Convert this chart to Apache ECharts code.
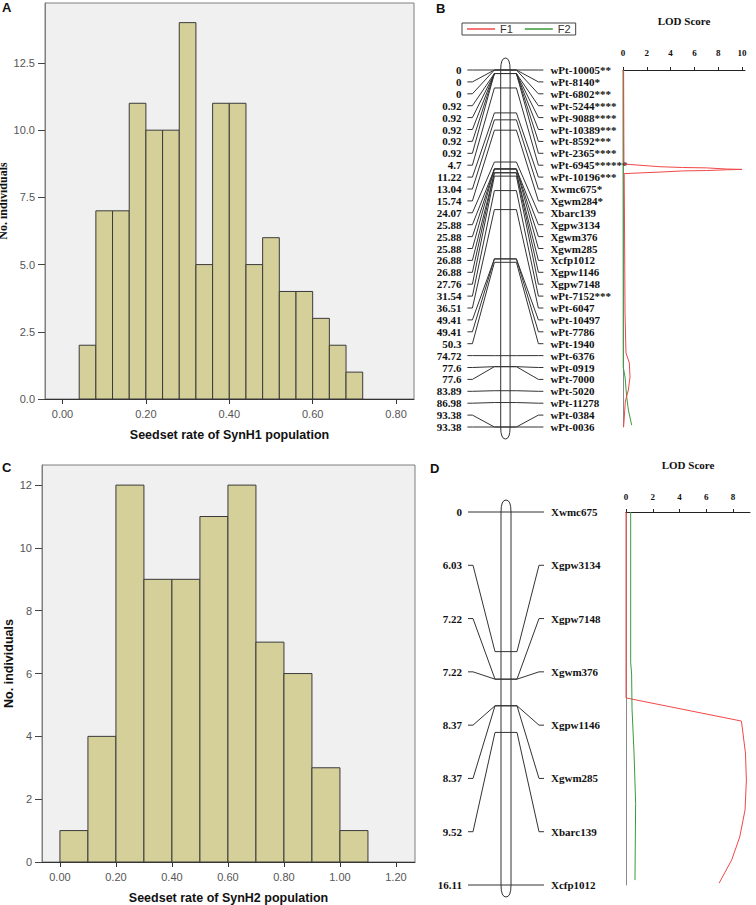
<!DOCTYPE html>
<html>
<head>
<meta charset="utf-8">
<script src="https://cdn.jsdelivr.net/npm/echarts@6.0.0/dist/echarts.min.js"></script>
<style>
  html, body { margin: 0; padding: 0; background: #fff; }
  #main { width: 756px; height: 905px; }
</style>
</head>
<body>
<div id="main"></div>
<script>
// A: seedset histogram SynH1 (bin starts, bin width, counts)
var histAStart = [0.04, 0.08, 0.12, 0.16, 0.20, 0.24, 0.28, 0.32, 0.36, 0.40, 0.44, 0.48, 0.52, 0.56, 0.60, 0.64, 0.68];
var histAWidth = 0.04;
var histACounts = [2, 7, 7, 11, 10, 10, 14, 5, 11, 11, 5, 6, 4, 4, 3, 2, 1];
var histATicks = [0, 0.2, 0.4, 0.6, 0.8];
var histAYTicks = [0, 2.5, 5, 7.5, 10, 12.5];

// C: seedset histogram SynH2
var histCStart = [0.0, 0.1, 0.2, 0.3, 0.4, 0.5, 0.6, 0.7, 0.8, 0.9, 1.0];
var histCWidth = 0.1;
var histCCounts = [1, 4, 12, 9, 9, 11, 12, 7, 6, 3, 1];
var histCTicks = [0, 0.2, 0.4, 0.6, 0.8, 1.0, 1.2];
var histCYTicks = [0, 2, 4, 6, 8, 10, 12];

// B: linkage map (cM) and markers
var posB = [0, 0, 0, 0.92, 0.92, 0.92, 0.92, 0.92, 4.7, 11.22, 13.04, 15.74, 24.07, 25.88, 25.88, 25.88,
  26.88, 26.88, 27.76, 31.54, 36.51, 49.41, 49.41, 50.3, 74.72, 77.6, 77.6, 83.89, 86.98, 93.38, 93.38];
var namesB = ['wPt-10005**', 'wPt-8140*', 'wPt-6802***', 'wPt-5244****', 'wPt-9088****', 'wPt-10389***',
  'wPt-8592***', 'wPt-2365****', 'wPt-6945******', 'wPt-10196***', 'Xwmc675*', 'Xgwm284*', 'Xbarc139',
  'Xgpw3134', 'Xgwm376', 'Xgwm285', 'Xcfp1012', 'Xgpw1146', 'Xgpw7148', 'wPt-7152***', 'wPt-6047',
  'wPt-10497', 'wPt-7786', 'wPt-1940', 'wPt-6376', 'wPt-0919', 'wPt-7000', 'wPt-5020', 'wPt-11278',
  'wPt-0384', 'wPt-0036'];
// B: LOD profiles [LOD, position]
var lodBF1 = [[0.05, 0], [0.08, 24.6], [3.1, 25.3], [5, 25.5], [7, 25.6], [8.7, 25.9], [10, 26.0],
  [8.7, 26.1], [7, 26.3], [5, 26.4], [3.1, 26.7], [0.1, 27.1], [0.17, 63.6], [0.25, 74.0], [0.53, 76.6],
  [0.59, 80.3], [0.45, 83.7], [0.2, 86.6], [0.05, 93.38]];
var lodBF2 = [[0, 0], [0.02, 77.7], [0.17, 80.3], [0.31, 85.5], [0.45, 88.9], [0.73, 92.9]];
var lodBTicks = [0, 2, 4, 6, 8, 10];

// D: linkage map and LOD
var posD = [0, 6.03, 7.22, 7.22, 8.37, 8.37, 9.52, 16.11];
var namesD = ['Xwmc675', 'Xgpw3134', 'Xgpw7148', 'Xgwm376', 'Xgpw1146', 'Xgwm285', 'Xbarc139', 'Xcfp1012'];
var lodDF1 = [[0, 0], [0, 8.03], [8.63, 9.03], [8.93, 10.41], [9.0, 11.58], [8.9, 12.87], [8.5, 14.04],
  [7.9, 15.03], [6.96, 16.03]];
var lodDF2 = [[0.35, 0], [0.35, 6.5], [0.42, 7.0], [0.45, 8.5], [0.6, 10.4], [0.72, 12.6], [0.67, 15.9]];
var lodDTicks = [0, 2, 4, 6, 8];

var SANS = 'Liberation Sans';
var SERIF = 'Liberation Serif';
var RED = '#f04848';
var GREEN = '#3a9a3a';

var chart = echarts.init(document.getElementById('main'), null, {renderer: 'svg'});

function histItem(params, api) {
  var p0 = api.coord([api.value(0), api.value(2)]);
  var p1 = api.coord([api.value(1), 0]);
  return {
    type: 'rect',
    shape: {x: p0[0], y: p0[1], width: p1[0] - p0[0], height: p1[1] - p0[1]},
    style: {fill: '#d5d09a', stroke: '#3a3a3a', lineWidth: 1}
  };
}

function chromItem(hw) {
  return function (params, api) {
    var t = api.coord([0.5, 0]);
    var b = api.coord([0.5, api.value(1)]);
    var cx = t[0], l = cx - hw, r = cx + hw, cap = 12;
    var d = 'M' + l + ' ' + t[1] + ' L' + l + ' ' + b[1] +
      ' Q' + l + ' ' + (b[1] + cap) + ' ' + cx + ' ' + (b[1] + cap) +
      ' Q' + r + ' ' + (b[1] + cap) + ' ' + r + ' ' + b[1] +
      ' L' + r + ' ' + t[1] +
      ' Q' + r + ' ' + (t[1] - cap) + ' ' + cx + ' ' + (t[1] - cap) +
      ' Q' + l + ' ' + (t[1] - cap) + ' ' + l + ' ' + t[1] + ' Z';
    return {type: 'path', shape: {pathData: d}, style: {fill: '#fff', stroke: '#333', lineWidth: 1}};
  };
}

// marker connectors: label rows are evenly spaced over the map length
function markerItem(names, positions) {
  var n = names.length, maxPos = positions[n - 1];
  return function (params, api) {
    var i = api.value(2);
    var tick = api.coord([0.5, api.value(1)]);
    var lab = api.coord([0.5, i * maxPos / (n - 1)]);
    var cx = tick[0], ty = tick[1], ly = lab[1];
    var font = 'bold 11px "' + SERIF + '"';
    return {
      type: 'group',
      children: [
        {type: 'polyline', shape: {points: [[cx - 38, ly], [cx - 33, ly], [cx - 11, ty], [cx + 11, ty], [cx + 33, ly], [cx + 38, ly]]},
          style: {stroke: '#333', fill: null, lineWidth: 1}},
        {type: 'text', x: cx - 44, y: ly,
          style: {text: String(positions[i]), font: font, fill: '#111', align: 'right', verticalAlign: 'middle', textAlign: 'right', textVerticalAlign: 'middle'}},
        {type: 'text', x: cx + 45, y: ly,
          style: {text: names[i], font: font, fill: '#111', align: 'left', verticalAlign: 'middle', textAlign: 'left', textVerticalAlign: 'middle'}}
      ]
    };
  };
}

function histX(idx, min, max, ticks, name) {
  return {
    gridIndex: idx, type: 'value', min: min, max: max, position: 'bottom',
    axisLine: {show: true, onZero: false, lineStyle: {color: '#333', width: 1}},
    axisTick: {show: true, customValues: ticks, length: 5, lineStyle: {color: '#333'}},
    axisLabel: {customValues: ticks, margin: 9, color: '#555', fontFamily: SANS, fontSize: 11,
      formatter: function (v) { return v.toFixed(2); }},
    splitLine: {show: false},
    name: name, nameLocation: 'middle', nameGap: 29,
    nameTextStyle: {fontFamily: SANS, fontWeight: 'bold', fontSize: 12.5, color: '#111'}
  };
}

function histY(idx, max, ticks, dec, nameFont, gap, nameSize) {
  return {
    gridIndex: idx, type: 'value', min: 0, max: max, position: 'left',
    axisLine: {show: true, onZero: false, lineStyle: {color: '#7f7f7f', width: 1}},
    axisTick: {show: true, customValues: ticks, length: 7, lineStyle: {color: '#444'}},
    axisLabel: {customValues: ticks, margin: 10, color: '#555', fontFamily: SANS, fontSize: 11,
      formatter: function (v) { return v.toFixed(dec); }},
    splitLine: {show: false},
    name: 'No. individuals', nameLocation: 'middle', nameGap: gap,
    nameTextStyle: {fontFamily: nameFont, fontWeight: 'bold', fontSize: nameSize, color: '#111', lineHeight: 13}
  };
}

function lodX(idx, max, ticks, margin, gap) {
  return {
    gridIndex: idx, type: 'value', position: 'top', min: 0, max: max,
    axisLine: {show: true, onZero: false, lineStyle: {color: '#222'}},
    axisTick: {show: true, customValues: ticks, length: 3, lineStyle: {color: '#222'}},
    axisLabel: {customValues: ticks, margin: margin, color: '#111', fontFamily: SERIF, fontWeight: 'bold', fontSize: 9},
    splitLine: {show: false},
    name: 'LOD Score', nameLocation: 'middle', nameGap: gap,
    nameTextStyle: {fontFamily: SERIF, fontWeight: 'bold', fontSize: 11, color: '#111'}
  };
}

function lodY(idx, max) {
  return {
    gridIndex: idx, type: 'value', min: 0, max: max, inverse: true, position: 'left',
    axisLine: {show: true, onZero: false, lineStyle: {color: '#8a8a8a'}},
    axisTick: {show: false}, axisLabel: {show: false}, splitLine: {show: false}
  };
}

function mapAxis(idx, min, max, inverse) {
  return {gridIndex: idx, type: 'value', min: min, max: max, inverse: inverse, show: false};
}

var letterStyle = {fontFamily: SANS, fontWeight: 'bold', fontSize: 13, color: '#111'};
var histGrid = {show: true, backgroundColor: '#f0f0f0', borderColor: '#7f7f7f', borderWidth: 1,
  containLabel: false, outerBoundsMode: 'none'};

chart.setOption({
  animation: false,
  backgroundColor: '#fff',
  title: [
    {text: 'A', left: 2, top: 1, padding: 0, textStyle: letterStyle},
    {text: 'B', left: 436, top: 2, padding: 0, textStyle: letterStyle},
    {text: 'C', left: 2, top: 461, padding: 0, textStyle: letterStyle},
    {text: 'D', left: 430, top: 462, padding: 0, textStyle: letterStyle}
  ],
  legend: {
    data: ['F1', 'F2'], left: 462, top: 23, orient: 'horizontal',
    icon: 'rect', itemWidth: 28, itemHeight: 1.5, itemGap: 12,
    padding: [0, 5], borderColor: '#444', borderWidth: 1,
    textStyle: {fontFamily: SANS, fontSize: 11, color: '#333', lineHeight: 12}
  },
  grid: [
    Object.assign({left: 45, top: 3, width: 369, height: 396}, histGrid),
    Object.assign({left: 42, top: 465, width: 373, height: 397}, histGrid),
    {left: 405.4, top: 70, width: 200, height: 357, outerBoundsMode: 'none'},
    {left: 623, top: 70, width: 122, height: 357, outerBoundsMode: 'none'},
    {left: 406, top: 512, width: 200, height: 373, outerBoundsMode: 'none'},
    {left: 626, top: 512, width: 124, height: 373, outerBoundsMode: 'none'}
  ],
  xAxis: [
    histX(0, -0.042, 0.843, histATicks, 'Seedset rate of SynH1 population'),
    histX(1, -0.064, 1.268, histCTicks, 'Seedset rate of SynH2 population'),
    mapAxis(2, 0, 1, false),
    lodX(3, 10.25, lodBTicks, 13, 44),
    mapAxis(4, 0, 1, false),
    lodX(5, 9.27, lodDTicks, 11, 42)
  ],
  yAxis: [
    histY(0, 14.73, histAYTicks, 1, SERIF, 23, 12),
    histY(1, 12.64, histCYTicks, 0, SANS, 27, 12.5),
    mapAxis(2, 0, posB[posB.length - 1], true),
    lodY(3, posB[posB.length - 1]),
    mapAxis(4, 0, posD[posD.length - 1], true),
    lodY(5, posD[posD.length - 1])
  ],
  series: [
    {type: 'custom', xAxisIndex: 0, yAxisIndex: 0, renderItem: histItem, encode: {x: [0, 1], y: 2},
      data: histAStart.map(function (s, i) { return [s, s + histAWidth, histACounts[i]]; })},
    {type: 'custom', xAxisIndex: 1, yAxisIndex: 1, renderItem: histItem, encode: {x: [0, 1], y: 2},
      data: histCStart.map(function (s, i) { return [s, s + histCWidth, histCCounts[i]]; })},
    {type: 'custom', xAxisIndex: 2, yAxisIndex: 2, renderItem: chromItem(4.7), encode: {x: 0, y: 1},
      data: [[0.5, posB[posB.length - 1]]]},
    {type: 'custom', xAxisIndex: 2, yAxisIndex: 2, renderItem: markerItem(namesB, posB), encode: {x: 0, y: 1},
      data: posB.map(function (p, i) { return [0.5, p, i]; })},
    {name: 'F1', type: 'line', xAxisIndex: 3, yAxisIndex: 3, data: lodBF1, symbol: 'none', color: RED,
      lineStyle: {color: RED, width: 1}},
    {name: 'F2', type: 'line', xAxisIndex: 3, yAxisIndex: 3, data: lodBF2, symbol: 'none', color: GREEN,
      lineStyle: {color: GREEN, width: 1}, z: 1},
    {type: 'custom', xAxisIndex: 4, yAxisIndex: 4, renderItem: chromItem(5), encode: {x: 0, y: 1},
      data: [[0.5, posD[posD.length - 1]]]},
    {type: 'custom', xAxisIndex: 4, yAxisIndex: 4, renderItem: markerItem(namesD, posD), encode: {x: 0, y: 1},
      data: posD.map(function (p, i) { return [0.5, p, i]; })},
    {name: 'F1', type: 'line', xAxisIndex: 5, yAxisIndex: 5, data: lodDF1, symbol: 'none', color: RED,
      lineStyle: {color: RED, width: 1}},
    {name: 'F2', type: 'line', xAxisIndex: 5, yAxisIndex: 5, data: lodDF2, symbol: 'none', color: GREEN,
      lineStyle: {color: GREEN, width: 1}}
  ]
});
</script>
</body>
</html>
